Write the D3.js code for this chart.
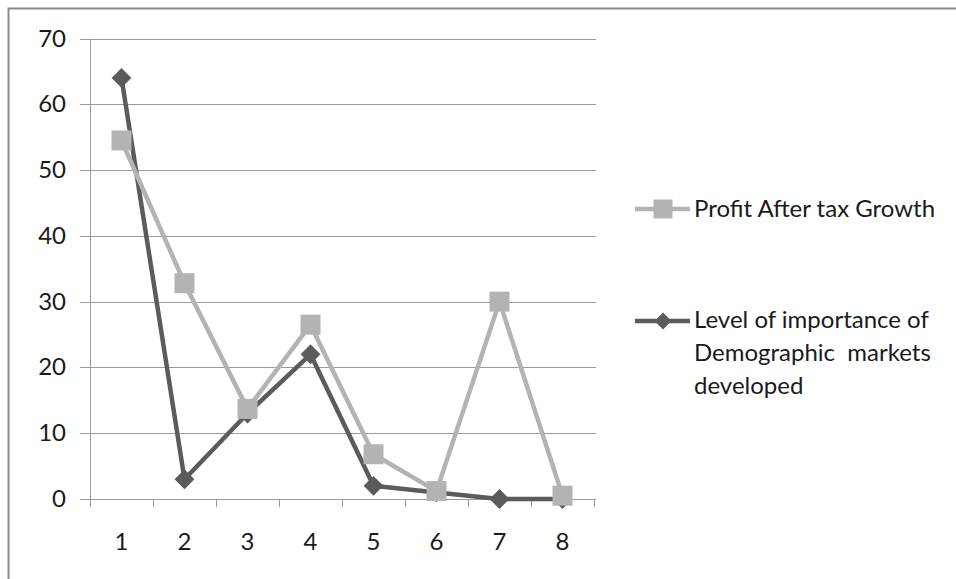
<!DOCTYPE html>
<html>
<head>
<meta charset="utf-8">
<script src="https://cdn.jsdelivr.net/npm/d3@7"></script>
<style>
  html, body { margin: 0; padding: 0; background: #fff; }
  svg { display: block; }
  text { font-family: Lato, "Open Sans", sans-serif; fill: #1a1a1a; }
</style>
</head>
<body>
<svg id="chart" width="956" height="579"></svg>
<script>
// Categories along the x axis
const categories = ["1", "2", "3", "4", "5", "6", "7", "8"];
// Series values
const profitGrowth = [54.5, 32.8, 13.7, 26.5, 6.8, 1.2, 30, 0.5];
const demographicImportance = [64, 3, 13, 22, 2, 1, 0, 0];
// Y axis ticks
const yTicks = [0, 10, 20, 30, 40, 50, 60, 70];
// Legend entries
const legendProfit = ["Profit After tax Growth"];
const legendDemo = ["Level of importance of", "Demographic  markets", "developed"];

const svg = d3.select("#chart");
const fontSize = 24;

// outer frame (top and left edges)
svg.append("path")
  .attr("d", "M8.5,579 L8.5,8.5 L956,8.5")
  .attr("fill", "none").attr("stroke", "#8a8a8a").attr("stroke-width", 2);

const x = d3.scaleBand().domain(categories).range([90, 594]);
const y = d3.scaleLinear().domain([0, 70]).range([499, 38.5]);

// horizontal gridlines
svg.append("g").selectAll("line").data(yTicks).join("line")
  .attr("x1", 80).attr("x2", 596)
  .attr("y1", d => Math.round(y(d)) + 0.5).attr("y2", d => Math.round(y(d)) + 0.5)
  .attr("stroke", "#9a9a9a").attr("stroke-width", 1);

// y axis line
svg.append("line").attr("x1", 90.5).attr("x2", 90.5)
  .attr("y1", y(70)).attr("y2", y(0))
  .attr("stroke", "#9a9a9a");

// x axis ticks at category boundaries
const bounds = categories.map(c => x(c)).concat([x.range()[1]]);
svg.append("g").selectAll("line").data(bounds).join("line")
  .attr("x1", d => Math.round(d) + 0.5).attr("x2", d => Math.round(d) + 0.5)
  .attr("y1", y(0)).attr("y2", y(0) + 8)
  .attr("stroke", "#9a9a9a");

// y tick labels
svg.append("g").selectAll("text").data(yTicks).join("text")
  .attr("x", 66).attr("y", d => y(d) + 8)
  .attr("text-anchor", "end").attr("font-size", fontSize)
  .text(d => d);

// x tick labels
svg.append("g").selectAll("text").data(categories).join("text")
  .attr("x", d => x(d) + x.bandwidth() / 2).attr("y", 550)
  .attr("text-anchor", "middle").attr("font-size", fontSize)
  .text(d => d);

const cx = (d, i) => x(categories[i]) + x.bandwidth() / 2;
const line = d3.line().x(cx).y(d => y(d));

const dark = "#5b5b5b";
const light = "#b3b3b3";

// demographic series
svg.append("path").datum(demographicImportance)
  .attr("d", line).attr("fill", "none")
  .attr("stroke", dark).attr("stroke-width", 4.5).attr("stroke-linejoin", "round");
svg.append("g").selectAll("path").data(demographicImportance).join("path")
  .attr("d", d3.symbol(d3.symbolDiamond2, 250))
  .attr("transform", (d, i) => `translate(${cx(d, i)},${y(d)})`)
  .attr("fill", dark);

// profit series
svg.append("path").datum(profitGrowth)
  .attr("d", line).attr("fill", "none")
  .attr("stroke", light).attr("stroke-width", 4.5).attr("stroke-linejoin", "round");
svg.append("g").selectAll("rect").data(profitGrowth).join("rect")
  .attr("x", (d, i) => cx(d, i) - 10).attr("y", d => y(d) - 10)
  .attr("width", 20).attr("height", 20)
  .attr("fill", light);

// legend
const lg1 = svg.append("g");
lg1.append("line").attr("x1", 635).attr("x2", 690).attr("y1", 209).attr("y2", 209)
  .attr("stroke", light).attr("stroke-width", 4.5);
lg1.append("rect").attr("x", 653.5).attr("y", 199.5).attr("width", 19).attr("height", 19).attr("fill", light);
lg1.selectAll("text").data(legendProfit).join("text")
  .attr("x", 694).attr("y", (d, i) => 217 + i * 33)
  .attr("font-size", fontSize).text(d => d);

const lg2 = svg.append("g");
lg2.append("line").attr("x1", 635).attr("x2", 690).attr("y1", 321).attr("y2", 321)
  .attr("stroke", dark).attr("stroke-width", 4.5);
lg2.append("path").attr("d", d3.symbol(d3.symbolDiamond2, 185))
  .attr("transform", "translate(663,321)").attr("fill", dark);
lg2.selectAll("text").data(legendDemo).join("text")
  .attr("x", 694).attr("y", (d, i) => 328 + i * 33)
  .attr("font-size", fontSize)
  .style("white-space", "pre")
  .text(d => d);
</script>
</body>
</html>
